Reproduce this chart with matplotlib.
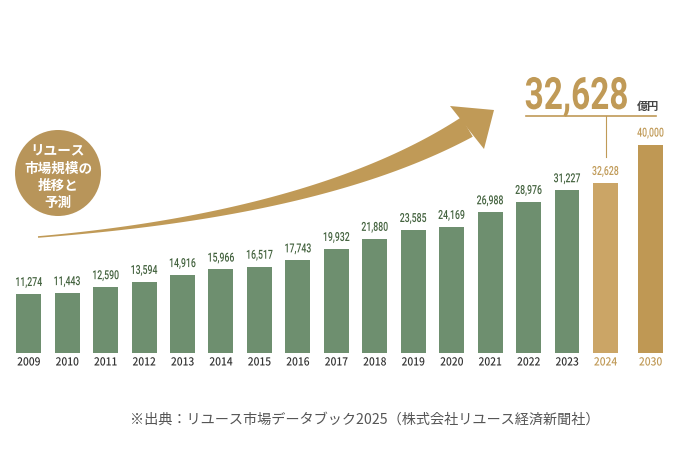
import numpy as np
import matplotlib
matplotlib.use("Agg")
import matplotlib.pyplot as plt
from matplotlib.patches import Circle, Polygon
from matplotlib.patheffects import AbstractPathEffect
from matplotlib.transforms import Affine2D

years = ["2009", "2010", "2011", "2012", "2013", "2014", "2015", "2016",
         "2017", "2018", "2019", "2020", "2021", "2022", "2023", "2024", "2030"]
values = [11274, 11443, 12590, 13594, 14916, 15966, 16517, 17743,
          19932, 21880, 23585, 24169, 26988, 28976, 31227, 32628, 40000]
is_forecast = [False] * 15 + [True, True]
headline = "32,628"
headline_unit = "億円"
badge_lines = ["リユース", "市場規模の", "推移と", "予測"]
source = "※出典：リユース市場データブック2025（株式会社リユース経済新聞社）"

GREEN = "#6e8f6f"
GREEN_TXT = "#44633f"
GOLD_24 = "#cba566"
GOLD_30 = "#bf9854"
GOLD = "#c09a57"
GRAY = "#333333"
JP = ["Noto Sans CJK JP", "DejaVu Sans"]
NUM = ["Roboto", "DejaVu Sans"]


class Squeeze(AbstractPathEffect):
    """No condensed font installed, so squeeze glyphs horizontally."""

    def __init__(self, sx, anchor="center"):
        super().__init__()
        self.sx = sx
        self.anchor = anchor

    def draw_path(self, renderer, gc, tpath, affine, rgbFace=None):
        ext = tpath.get_extents(affine)
        if self.anchor == "left":
            a = ext.x0
        elif self.anchor == "right":
            a = ext.x1
        else:
            a = 0.5 * (ext.x0 + ext.x1)
        tr = affine + Affine2D().translate(-a, 0).scale(self.sx, 1).translate(a, 0)
        renderer.draw_path(gc, tpath, tr, rgbFace)


W, H = 684, 452
fig = plt.figure(figsize=(W / 100, H / 100), dpi=100)

# bar axes: baseline at y=353.5px, 2009 centred at x=28.7px, 38.45px step
step = 38.45
x0 = 28.7
base_px = 353.5
ax = fig.add_axes([0, (H - base_px) / H, 1, base_px / H])
ax.set_xlim(-x0 / step, (W - x0) / step)
ax.set_ylim(0, base_px / 0.0052)
ax.axis("off")

xs = np.arange(len(years), dtype=float)
xs[-1] = xs[-2] + 1.17   # small gap before the 2030 forecast

colors = [GREEN] * 15 + [GOLD_24, GOLD_30]
ax.bar(xs, values, width=0.65, color=colors, zorder=2)
for x, v, f in zip(xs, values, is_forecast):
    ax.annotate(f"{v:,}", (x, v), xytext=(0, 3.5), textcoords="offset points",
                ha="center", va="bottom", fontsize=9.0, fontweight="medium",
                color=(GOLD if f else GREEN_TXT), family=NUM,
                path_effects=[Squeeze(0.70)])

# overlay in pixel coordinates
ov = fig.add_axes([0, 0, 1, 1], zorder=5)
ov.set_xlim(0, W)
ov.set_ylim(H, 0)
ov.axis("off")

for x, y, f in zip(xs, years, is_forecast):
    px = x0 + x * step
    ov.text(px, 363.5, y, ha="center", va="center", fontsize=8,
            color=(GOLD if f else GRAY), family=JP, fontweight="medium",
            path_effects=[Squeeze(0.92)])

# curved arrow
t = np.linspace(0, 1, 80)
P0, P1, P2 = np.array([38, 238]), np.array([320, 215]), np.array([467, 128])
cx = (1 - t) ** 2 * P0[0] + 2 * t * (1 - t) * P1[0] + t ** 2 * P2[0]
cy = (1 - t) ** 2 * P0[1] + 2 * t * (1 - t) * P1[1] + t ** 2 * P2[1]
dx = 2 * (1 - t) * (P1[0] - P0[0]) + 2 * t * (P2[0] - P1[0])
dy = 2 * (1 - t) * (P1[1] - P0[1]) + 2 * t * (P2[1] - P1[1])
nrm = np.hypot(dx, dy)
nx, ny = -dy / nrm, dx / nrm
half = 0.8 + 10.5 * t ** 1.4
upper = np.column_stack([cx + nx * half, cy + ny * half])
lower = np.column_stack([cx - nx * half, cy - ny * half])
ov.add_patch(Polygon(np.vstack([upper, lower[::-1]]), closed=True,
                     facecolor=GOLD, edgecolor="none", zorder=3))
ov.add_patch(Polygon([(450, 107), (494, 111), (484, 150)], closed=True,
                     facecolor=GOLD, edgecolor="none", zorder=3))

# badge
ov.add_patch(Circle((58, 174), 43, facecolor="#b8955a", edgecolor="none", zorder=3))
ov.text(58, 177, "\n".join(badge_lines), ha="center", va="center", fontsize=9.8,
        color="white", fontweight="bold", family=JP, linespacing=1.3, zorder=4)

# headline value (anchored on its right edge so the squeeze keeps clear of the unit)
ov.text(629, 110, headline, ha="right", va="baseline", fontsize=32,
        fontweight="bold", color=GOLD, family=NUM,
        path_effects=[Squeeze(0.75, anchor="right")])
ov.text(637, 110, headline_unit, ha="left", va="baseline", fontsize=8,
        color="#444444", fontweight="bold", family=JP)
ov.plot([526, 656], [117, 117], color=GOLD, lw=1.2)
ov.plot([606, 606], [117, 158], color=GOLD, lw=0.8)

ov.text(365, 420, source, ha="center", va="center", fontsize=10.2,
        color="#555555", family=JP)

fig.savefig("out.png", dpi=100, facecolor="white")
